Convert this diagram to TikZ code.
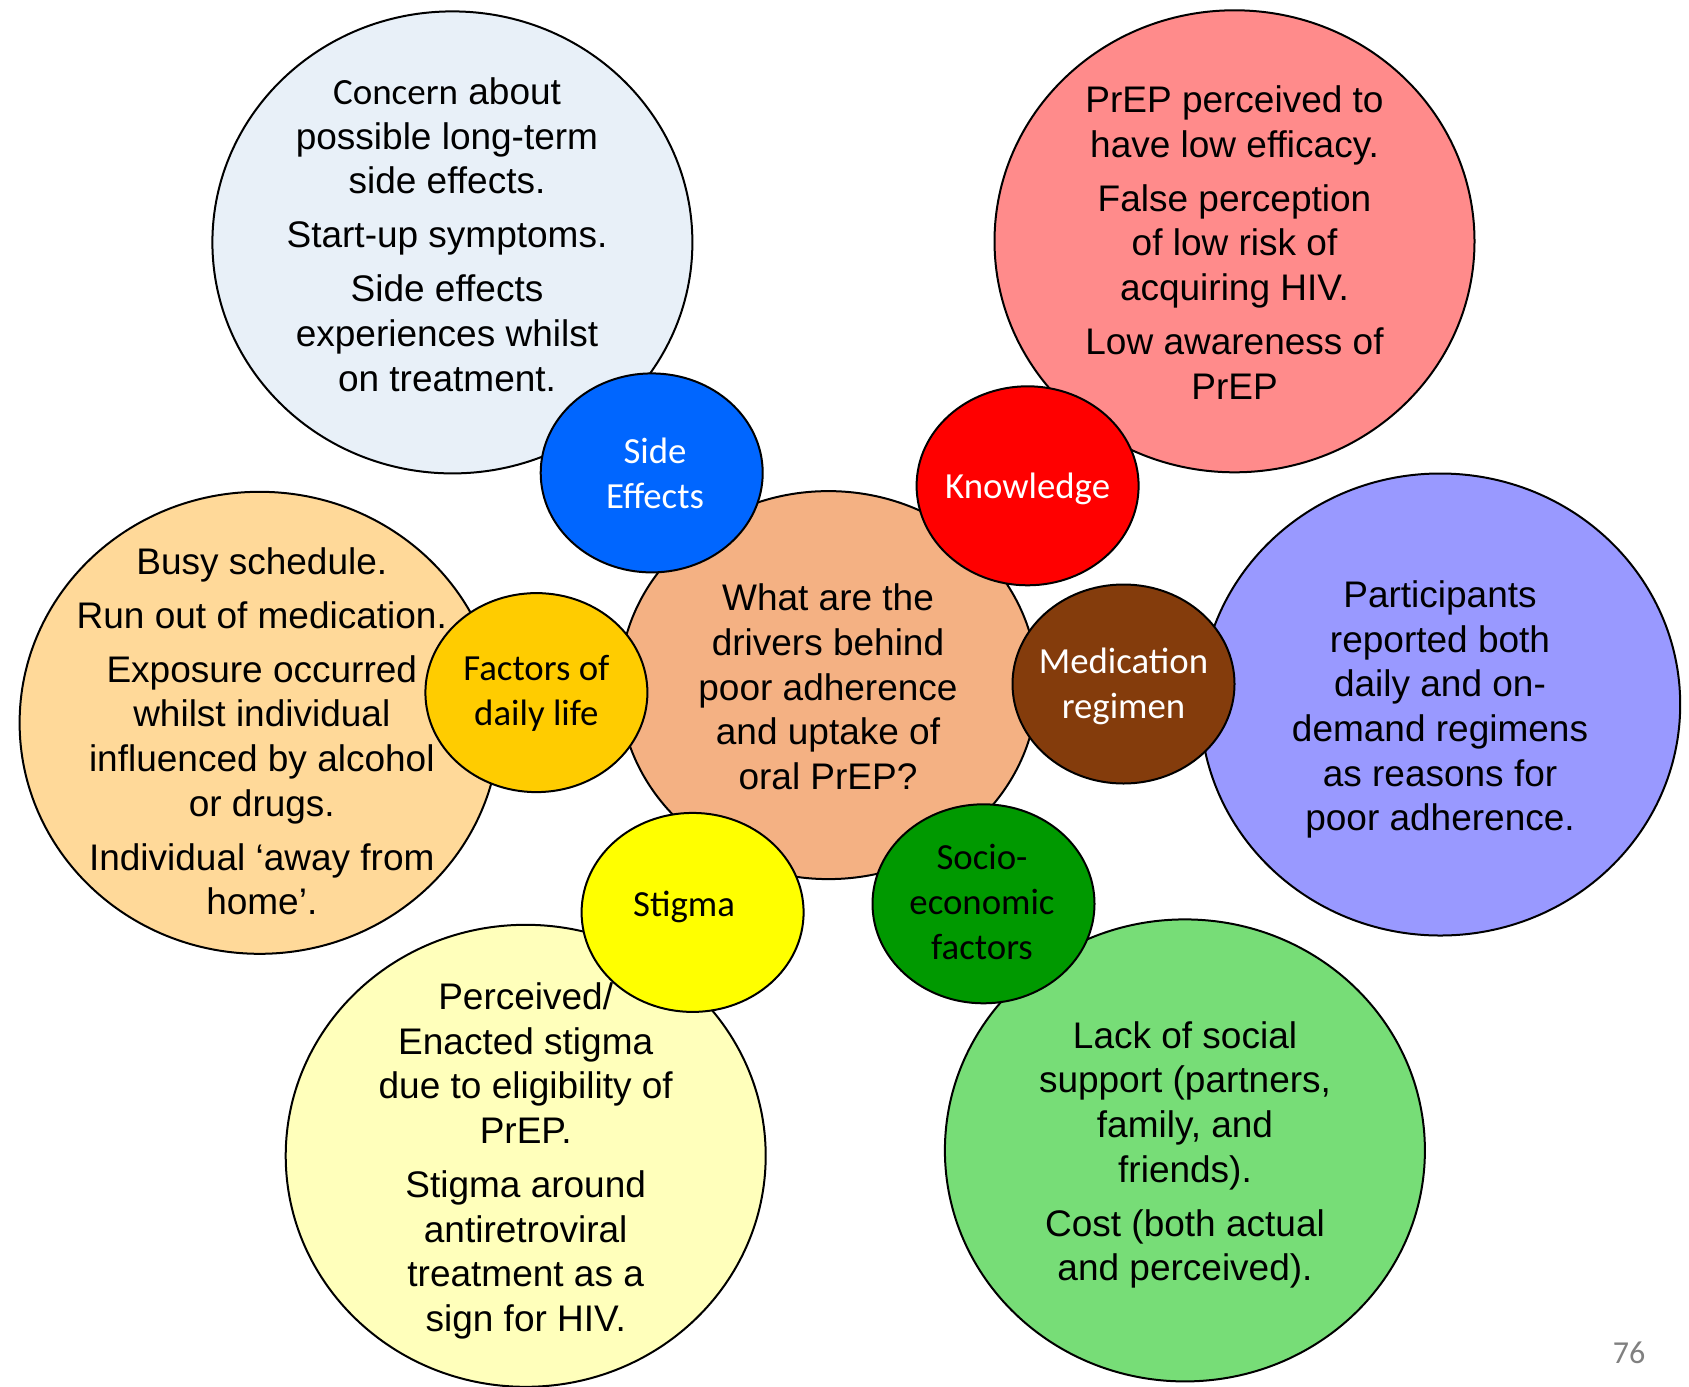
\documentclass[tikz,border=0pt]{standalone}
\usepackage{fontspec}
\setmainfont{Liberation Sans}
\newfontfamily\carlitofont{Carlito}
\usetikzlibrary{shapes.geometric}
\definecolor{cSEl}{HTML}{E8F0F8}
\definecolor{cKNl}{HTML}{FF8B8B}
\definecolor{cFAl}{HTML}{FFD999}
\definecolor{cMEl}{HTML}{9999FF}
\definecolor{cSTl}{HTML}{FFFFBB}
\definecolor{cSOl}{HTML}{77DD77}
\definecolor{cCen}{HTML}{F4B183}
\definecolor{cSE}{HTML}{0066FF}
\definecolor{cKN}{HTML}{FF0000}
\definecolor{cFA}{HTML}{FFCC00}
\definecolor{cME}{HTML}{843C0C}
\definecolor{cST}{HTML}{FFFF00}
\definecolor{cSO}{HTML}{009900}
\definecolor{pgnum}{HTML}{808080}
\tikzset{
  bigc/.style={ellipse,draw=black,line width=1pt,minimum width=240pt,minimum height=231pt,inner sep=0pt},
  cenc/.style={ellipse,draw=black,line width=1pt,minimum width=209pt,minimum height=194pt,inner sep=0pt},
  smallc/.style={ellipse,draw=black,line width=1pt,minimum width=111pt,minimum height=99.5pt,inner sep=0pt},
  bigtext/.style={align=center,inner sep=0pt,font=\fontsize{18.5}{22.35}\selectfont},
  smalltext/.style={align=center,inner sep=0pt,font=\carlitofont\fontsize{18.4}{22.5}\selectfont},
}
\begin{document}
\begin{tikzpicture}[x=0.5pt,y=-0.5pt]
\useasboundingbox (0,0) rectangle (1689,1386);
% big circles
\node[bigc,fill=cSEl] (seL) at (452.4,242.4) {};
\node[bigc,fill=cKNl] (knL) at (1234.5,241.3) {};
\node[bigc,fill=cFAl] (faL) at (259.6,722.8) {};
\node[bigc,fill=cMEl] (meL) at (1440.2,704.5) {};
\node[bigc,fill=cSTl] (stL) at (525.7,1155.8) {};
\node[bigc,fill=cSOl] (soL) at (1184.9,1150.4) {};
% centre
\node[cenc,fill=cCen] (cen) at (828.4,685.1) {};
% small circles
\node[smallc,fill=cSE] (se) at (651.7,472.9) {};
\node[smallc,fill=cKN] (kn) at (1027.6,485.8) {};
\node[smallc,fill=cFA] (fa) at (536.4,692.6) {};
\node[smallc,fill=cME] (me) at (1123.5,684) {};
\node[smallc,fill=cST] (st) at (692.6,912.4) {};
\node[smallc,fill=cSO] (so) at (983.5,903.8) {};
% texts in big circles
\node[bigtext] (seT) at (447,234.5) {{\carlitofont Concern} about\\possible long-term\\side effects.\\[4.6pt]Start-up symptoms.\\[4.6pt]Side effects\\experiences whilst\\on treatment.};
\node[bigtext] (knT) at (1234.5,242.4) {PrEP perceived to\\have low efficacy.\\[4.6pt]False perception\\of low risk of\\acquiring HIV.\\[4.6pt]Low awareness of\\PrEP};
\node[bigtext] (faT) at (261.8,731.5) {Busy schedule.\\[4.6pt]Run out of medication.\\[4.6pt]Exposure occurred\\whilst individual\\influenced by alcohol\\or drugs.\\[4.6pt]Individual `away from\\home'.};
\node[bigtext] (meT) at (1440,709.5) {Participants\\reported both\\daily and on-\\demand regimens\\as reasons for\\poor adherence.};
\node[bigtext] (stT) at (525.7,1161) {Perceived/\\Enacted stigma\\due to eligibility of\\PrEP.\\[4.6pt]Stigma around\\antiretroviral\\treatment as a\\sign for HIV.};
\node[bigtext] (soT) at (1185,1155) {Lack of social\\support (partners,\\family, and\\friends).\\[4.6pt]Cost (both actual\\and perceived).};
\node[bigtext] (cenT) at (828,687) {What are the\\drivers behind\\poor adherence\\and uptake of\\oral PrEP?};
% labels in small circles
\node[smalltext,text=white] (seLab) at (655,473) {Side\\Effects};
\node[smalltext,text=white] (knLab) at (1027.6,488.5) {Knowledge};
\node[smalltext,text=black] (faLab) at (536.4,693) {Factors of\\daily life};
\node[smalltext,text=white] (meLab) at (1123.5,686.5) {Medication\\regimen};
\node[smalltext,text=black] (stLab) at (684,907) {Stigma};
\node[smalltext,text=black] (soLab) at (982,901.6) {Socio-\\economic\\factors};
% page number
\node[font=\carlitofont\fontsize{16}{18}\selectfont,text=pgnum,inner sep=0pt] (pg) at (1629,1353) {76};
\end{tikzpicture}
\end{document}
